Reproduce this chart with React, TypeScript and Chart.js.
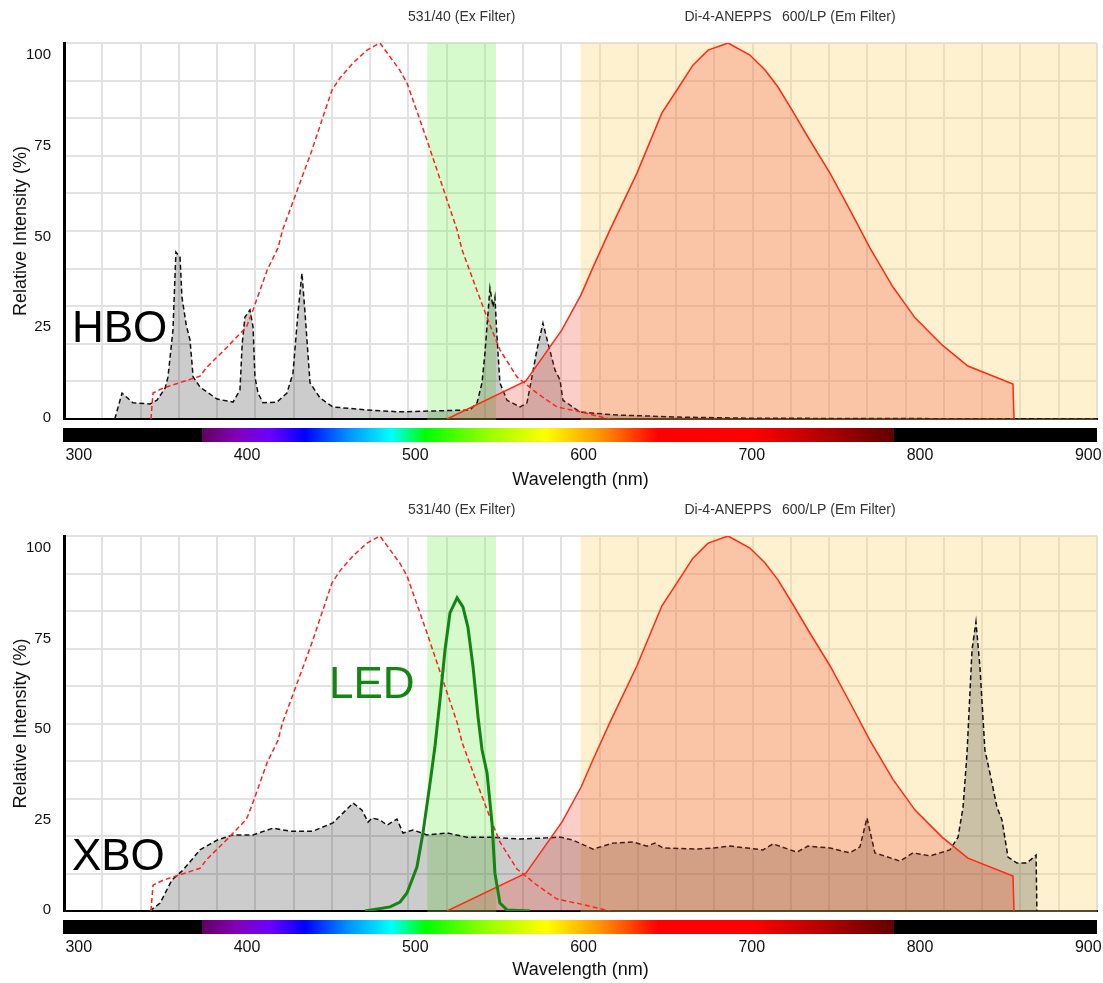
import React, { useEffect, useRef } from "react";
import { Chart, registerables } from "chart.js";

Chart.register(...registerables);

const FONT = '"Liberation Sans", Arial, Helvetica, sans-serif';

// ---------- data ----------
const xTickLabels = [300, 400, 500, 600, 700, 800, 900];
const yTickLabels = [0, 25, 50, 75, 100];

const hboNm = [329.5, 333.7, 340, 350, 354, 358.7, 360.4, 363.3, 365, 367.4, 368.5, 371, 373.2, 375, 379, 388.9, 398.2, 402.2, 403.5, 405.1, 408, 409.8, 410.9, 412.7, 415.6, 423.7, 429.5, 433, 435.9, 438.2, 440, 442.9, 448.7, 456.2, 476, 495, 535.8, 539.9, 542.8, 544.5, 547.4, 549.2, 550.3, 551.5, 553.2, 557.3, 564.9, 568.9, 571.8, 574.7, 578.2, 581.1, 585.2, 588.1, 589.8, 599.7, 618.9, 657.8, 700, 900];
const hboVal = [0, 6.9, 4.3, 4.0, 5.0, 8.2, 11.2, 23.7, 44.4, 43, 32.4, 25, 21, 11.2, 8.5, 5.3, 4.5, 7.7, 20, 27.1, 29, 24.5, 11.2, 6.9, 4.3, 4.5, 6.9, 12.2, 28.2, 38.8, 28.2, 9.6, 5.6, 3.2, 2.4, 1.9, 2.4, 4.3, 9.6, 17.6, 34.8, 29.8, 32.4, 21.8, 9.6, 5, 3.2, 4.3, 11.2, 18.4, 25.5, 20.2, 13, 10.4, 5, 1.9, 1.1, 0.5, 0.2, 0];

const xboNm = [349.9, 355.8, 362.7, 369.1, 379, 388.9, 398.2, 409.8, 421.4, 431.3, 444.6, 456.2, 462, 467.9, 473.1, 476.6, 478.9, 483.5, 487.6, 493.4, 496.9, 502.7, 510.8, 522.5, 534, 547.4, 564.9, 580.5, 588.1, 595.6, 607.3, 618.9, 630.5, 638.6, 643.3, 647.9, 667.6, 677, 686.8, 696.7, 706, 711.8, 725.7, 732.1, 744.9, 756.5, 762.3, 766.4, 771, 785.6, 793.1, 803, 814.6, 819.3, 822.2, 824.5, 827.4, 829.7, 832, 834.9, 837.8, 841.9, 844.8, 848.3, 853.5, 859.3, 864.6, 865.1];
const xboVal = [0, 2.1, 8.3, 10.9, 16.3, 18.9, 20.3, 20.3, 22.1, 21.3, 21.3, 23.5, 26.1, 28.8, 26.9, 23.7, 24.8, 24.3, 22.9, 24.5, 20.8, 21.6, 20.3, 20.8, 19.7, 19.7, 19.2, 19.5, 19.7, 18.9, 16.5, 18.1, 18.4, 17.3, 18.1, 16.8, 16.5, 16.8, 17.3, 16.8, 16.3, 17.9, 15.7, 17.3, 16.8, 15.5, 17.1, 24.8, 15.5, 13.3, 15.5, 14.7, 16.3, 19.7, 27.7, 42, 69.6, 77.1, 65.1, 42.9, 36.8, 27.7, 24.3, 14.4, 12.8, 12.8, 14.9, 0];

const ledNm = [474.8, 489.4, 495.2, 499.2, 505, 508.5, 512.6, 515.5, 518.4, 521.3, 524.2, 528.3, 531.7, 534.6, 537.6, 540.5, 542.8, 545.7, 548.6, 550.3, 553.2, 557.3, 570.7];
const ledVal = [0, 1.1, 2.4, 4.8, 11.7, 20.8, 34.1, 44, 56.3, 69.6, 79.5, 83.5, 81.1, 75.7, 65.1, 51.7, 43, 36.8, 23.5, 10.1, 2.1, 0.3, 0];

const exNm = [350.5, 351.7, 357.5, 379, 383, 394.7, 406, 409.8, 418, 424.3, 427, 434, 444, 450.4, 455.7, 460.3, 467.9, 476, 483.5, 495, 499.2, 510.8, 522.5, 528.3, 531.2, 540, 547.4, 553.2, 563.1, 574.7, 586.3, 599.7, 617];
const exVal = [0, 6.9, 8.2, 11.4, 13.8, 19.1, 24.5, 29, 39.6, 45.5, 50.3, 59, 71.5, 80.3, 87.5, 90.7, 94.7, 98.1, 100, 92.8, 89.4, 74.2, 58.2, 50.3, 45, 34, 25, 18.4, 11.2, 6.9, 3.2, 1.9, 0];

const emNm = [522.5, 568.3, 589.2, 600.3, 607.3, 617.1, 632.8, 647.3, 656, 665.3, 674.1, 685.7, 698.4, 707.2, 714.7, 722.8, 732.1, 744.9, 756.5, 768.1, 781.5, 794.3, 810, 825, 851.2, 851.8];
const emVal = [0, 10.1, 23.7, 33, 40.4, 50.3, 65.4, 81.4, 87.5, 94.1, 98.1, 100, 96.8, 92.8, 88.3, 82.2, 75, 65.4, 55.6, 45.5, 35.1, 26.9, 19.7, 14.1, 9.3, 0];

const exFilterRange = [511, 551];
const emFilterRange = [600, 900];
const dyePeakNm = 685.7;

const spectrumNm = [300, 379.9, 380, 400, 420, 440, 465, 490, 510, 545, 580, 612, 645, 700, 740, 781.9, 782, 900];
const spectrumColors = ["#000000", "#000000", "#610061", "#8300b5", "#6a00ff", "#0000ff", "#0092ff", "#00ffff", "#00ff00", "#92ff00", "#ffff00", "#ff9200", "#ff0000", "#ff0000", "#b50000", "#610000", "#000000", "#000000"];

const xMin = 300;
const xMax = 900;
const gridColumns = 27;

// ---------- helpers ----------
const pts = (xs: number[], ys: number[]) => xs.map((x, i) => ({ x, y: ys[i] }));

type Panel = {
  lampLabel: string;
  lampNm: number[];
  lampVal: number[];
  labelAt: [number, number];
  led: boolean;
  height: number;
  plotBottom: number;
};

const panels: Panel[] = [
  { lampLabel: "HBO", lampNm: hboNm, lampVal: hboVal, labelAt: [304.6, 20.5], led: false, height: 493, plotBottom: 419 },
  { lampLabel: "XBO", lampNm: xboNm, lampVal: xboVal, labelAt: [304.6, 10.9], led: true, height: 490, plotBottom: 418 },
];

const zeroPad = (s: any) => {
  s.paddingLeft = 0;
  s.paddingRight = 0;
  s.paddingTop = 0;
  s.paddingBottom = 0;
};

function makeConfig(p: Panel): any {
  const gridNm = Array.from({ length: gridColumns + 1 }, (_, i) => xMin + (i * (xMax - xMin)) / gridColumns);
  const datasets: any[] = [];
  if (p.led) {
    datasets.push({
      label: "LED",
      data: pts(ledNm, ledVal),
      borderColor: "#128512",
      borderWidth: 3,
      pointRadius: 0,
      fill: false,
      order: 0,
    });
  }
  datasets.push({
    label: "Di-4-ANEPPS Em",
    data: pts(emNm, emVal),
    borderColor: "#ff2a10",
    borderWidth: 1.5,
    backgroundColor: "rgba(240,60,40,0.25)",
    pointRadius: 0,
    fill: "origin",
    order: 1,
  });
  datasets.push({
    label: "Di-4-ANEPPS Ex",
    data: pts(exNm, exVal),
    borderColor: "#ff2020",
    borderWidth: 1.5,
    borderDash: [5, 3],
    pointRadius: 0,
    fill: false,
    order: 2,
  });
  datasets.push({
    label: p.lampLabel,
    data: pts(p.lampNm, p.lampVal),
    borderColor: "#111111",
    borderWidth: 1.5,
    borderDash: [5, 3],
    backgroundColor: "rgba(0,0,0,0.2)",
    pointRadius: 0,
    fill: "origin",
    order: 3,
  });

  const bandsPlugin = {
    id: "bands",
    beforeDatasetsDraw(chart: any) {
      const { ctx, chartArea, scales } = chart;
      const xs = scales.x;
      ctx.save();
      ctx.fillStyle = "rgba(130,240,100,0.33)";
      const g0 = xs.getPixelForValue(exFilterRange[0]);
      const g1 = xs.getPixelForValue(exFilterRange[1]);
      ctx.fillRect(g0, chartArea.top, g1 - g0, chartArea.bottom - chartArea.top + 1);
      ctx.fillStyle = "rgba(250,215,120,0.35)";
      const c0 = xs.getPixelForValue(emFilterRange[0]);
      const c1 = xs.getPixelForValue(emFilterRange[1]);
      ctx.fillRect(c0, chartArea.top, c1 - c0, chartArea.bottom - chartArea.top + 1);
      ctx.restore();
    },
    afterDraw(chart: any) {
      const { ctx, chartArea, scales } = chart;
      const xs = scales.x;
      const ys = scales.y;
      ctx.save();
      // spectrum bar
      const x0 = xs.getPixelForValue(xMin);
      const x1 = xs.getPixelForValue(xMax);
      const grad = ctx.createLinearGradient(x0, 0, x1, 0);
      spectrumNm.forEach((nm, i) => grad.addColorStop((nm - xMin) / (xMax - xMin), spectrumColors[i]));
      ctx.fillStyle = grad;
      ctx.fillRect(chartArea.left - 1, chartArea.bottom + 9, chartArea.right - chartArea.left + 1, 14);
      // filter labels
      ctx.fillStyle = "#333";
      ctx.font = `14px ${FONT}`;
      ctx.textAlign = "center";
      ctx.textBaseline = "middle";
      ctx.fillText("531/40 (Ex Filter)", xs.getPixelForValue((exFilterRange[0] + exFilterRange[1]) / 2), 17.5);
      ctx.fillText("Di-4-ANEPPS", xs.getPixelForValue(dyePeakNm), 17.5);
      ctx.fillText("600/LP (Em Filter)", (xs.getPixelForValue(emFilterRange[0]) + chartArea.right) / 2, 17.5);
      // lamp label
      ctx.textAlign = "left";
      ctx.textBaseline = "alphabetic";
      ctx.font = `44px ${FONT}`;
      ctx.fillStyle = "#000";
      ctx.fillText(p.lampLabel, xs.getPixelForValue(p.labelAt[0]), ys.getPixelForValue(p.labelAt[1]));
      if (p.led) {
        ctx.fillStyle = "#128512";
        ctx.fillText("LED", xs.getPixelForValue(453.9), ys.getPixelForValue(56.8));
      }
      ctx.restore();
    },
  };

  const xlHeight = p.height - p.plotBottom;

  return {
    type: "line",
    data: { datasets },
    plugins: [bandsPlugin],
    options: {
      responsive: false,
      animation: false,
      events: [],
      layout: { padding: { top: 43, right: 6, left: 0, bottom: 0 } },
      plugins: { legend: { display: false }, tooltip: { enabled: false } },
      elements: { line: { tension: 0 } },
      scales: {
        x: {
          type: "linear",
          position: "bottom",
          min: xMin,
          max: xMax,
          afterBuildTicks: (s: any) => {
            s.ticks = gridNm.map((v) => ({ value: v }));
          },
          ticks: { display: false },
          grid: { color: "#e2e2e2", lineWidth: 2, drawTicks: false },
          border: { display: false },
          afterFit: (s: any) => {
            s.height = 0;
            zeroPad(s);
          },
        },
        xl: {
          type: "linear",
          position: "bottom",
          min: 291.23,
          max: 905.2,
          afterBuildTicks: (s: any) => {
            s.ticks = xTickLabels.map((v) => ({ value: v }));
          },
          ticks: {
            padding: 19,
            maxRotation: 0,
            autoSkip: false,
            color: "#111",
            font: { family: FONT, size: 16 },
            callback: (v: any) => String(v),
          },
          grid: { display: false },
          border: { display: true, color: "#000", width: 2 },
          title: {
            display: true,
            text: "Wavelength (nm)",
            color: "#111",
            font: { family: FONT, size: 18 },
            padding: { top: 0, bottom: 2 },
          },
          afterFit: (s: any) => {
            s.height = xlHeight;
            zeroPad(s);
          },
        },
        y: {
          type: "linear",
          position: "left",
          min: 0,
          max: 100,
          afterBuildTicks: (s: any) => {
            s.ticks = Array.from({ length: 11 }, (_, i) => ({ value: i * 10 }));
          },
          ticks: { display: false },
          grid: { color: "#e2e2e2", lineWidth: 2, drawTicks: false },
          border: { display: false },
          afterFit: (s: any) => {
            s.width = 0;
            zeroPad(s);
          },
        },
        yl: {
          type: "linear",
          position: "left",
          min: -0.276,
          max: 103.3,
          afterBuildTicks: (s: any) => {
            s.ticks = yTickLabels.map((v) => ({ value: v }));
          },
          ticks: {
            padding: 5,
            color: "#111",
            font: { family: FONT, size: 15 },
            callback: (v: any) => String(v),
          },
          grid: { display: false },
          border: { display: true, color: "#000", width: 3 },
          title: {
            display: true,
            text: "Relative Intensity (%)",
            color: "#111",
            font: { family: FONT, size: 18 },
            padding: { top: 10, bottom: 0 },
          },
          afterFit: (s: any) => {
            s.width = 64;
            zeroPad(s);
          },
        },
      },
    },
  };
}

function PanelChart({ panel }: { panel: Panel }) {
  const ref = useRef<HTMLCanvasElement | null>(null);
  useEffect(() => {
    if (!ref.current) return;
    const chart = new Chart(ref.current, makeConfig(panel));
    return () => chart.destroy();
  }, [panel]);
  return (
    <canvas
      ref={ref}
      width={1103}
      height={panel.height}
      style={{ display: "block", width: 1103, height: panel.height }}
    />
  );
}

export default function App() {
  return (
    <div style={{ position: "absolute", left: 0, top: 0, width: 1103, height: 983, background: "#fff" }}>
      {panels.map((p) => (
        <PanelChart key={p.lampLabel} panel={p} />
      ))}
    </div>
  );
}
